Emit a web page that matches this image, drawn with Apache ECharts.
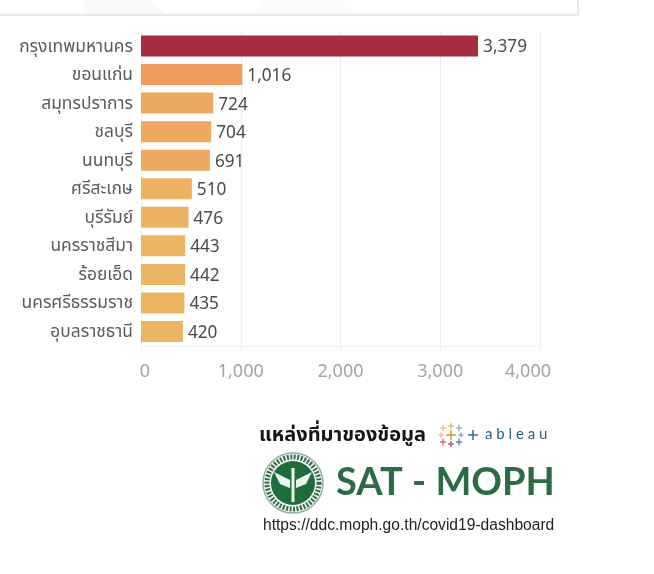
<!DOCTYPE html>
<html><head><meta charset="utf-8">
<style>html,body{margin:0;padding:0;background:#fff}#c{width:654px;height:574px}</style>
<script src="https://cdn.jsdelivr.net/npm/echarts@6/dist/echarts.min.js"></script>
</head><body><div id="c"></div>
<script>
const categories = ['กรุงเทพมหานคร','ขอนแก่น','สมุทรปราการ','ชลบุรี','นนทบุรี','ศรีสะเกษ','บุรีรัมย์','นครราชสีมา','ร้อยเอ็ด','นครศรีธรรมราช','อุบลราชธานี'];
const values = [3379,1016,724,704,691,510,476,443,442,435,420];
const barColors = ['#a62e40','#f09c5e','#eda95f','#eda95f','#eda95f','#ecb161','#ecb161','#ecb563','#ecb563','#ecb563','#ecb563'];
const FONT = '"Noto Sans Thai","Noto Sans","Lato",sans-serif';
const fmt = v => String(v).replace(/\B(?=(\d{3})+$)/g, ',');
const chart = echarts.init(document.getElementById('c'), null, {renderer:'canvas'});
const cross = (x,y,r,c) => [
  {type:'rect',shape:{x:x-r,y:y-0.7,width:2*r,height:1.4},style:{fill:c},silent:true},
  {type:'rect',shape:{x:x-0.7,y:y-r,width:1.4,height:2*r},style:{fill:c},silent:true}
];
const tableauCrosses = [
  [451,435,5,'#e8862c'],[443,428,3.2,'#f2c27a'],[459,428,3.2,'#8fb0cc'],
  [443,442,3.2,'#d8606a'],[459,442,3.2,'#5f7fa8'],[451,426,2.8,'#e9b36d'],
  [451,444,3,'#c5505e'],[441,435,2.6,'#ecc08a'],[461,435,2.6,'#7fa3c4']
];
const tickFont = {fontSize:18,color:'#a3a3a3',fontFamily:FONT};
const catFont = {color:'#5a5a5a',fontSize:17.4,fontFamily:FONT};
chart.setOption({
  animation:false,
  backgroundColor:'#fff',
  grid:{left:141,right:114,top:31.75,bottom:228.25,containLabel:false},
  xAxis:{type:'value',min:0,max:4000,interval:1000,
    axisLine:{show:true,lineStyle:{color:'#f0f0f0'}},
    axisTick:{show:true,length:5,lineStyle:{color:'#eeeeee'}},
    splitLine:{show:true,lineStyle:{color:'#eeeeee',width:1}},
    axisLabel:{margin:19,...tickFont,
      formatter:v=>v===0?'{first|0}':v===4000?'{last|4,000}':'{mid|'+fmt(v)+'}',
      rich:{
        first:{padding:[0,0,0,8],...tickFont},
        mid:{...tickFont},
        last:{padding:[0,24,0,0],...tickFont}
      }}},
  yAxis:{type:'category',inverse:true,data:categories,
    axisLine:{show:true,lineStyle:{color:'#eeeeee'}},axisTick:{show:false},
    axisLabel:{margin:8,...catFont,formatter:v=>'{a|'+v+'}',
      rich:{a:{...catFont,padding:[4,0,0,0]}}}},
  series:[{type:'bar',barWidth:21,
    data:values.map((v,i)=>({value:v,itemStyle:{color:barColors[i]}})),
    label:{show:true,position:'right',distance:5,offset:[0,3],color:'#4a4a4a',fontSize:17.2,fontFamily:FONT,formatter:p=>fmt(p.value)}}],
  graphic:[
    {type:'polygon',shape:{points:[[82,0],[150,0],[165,14],[88,14]]},style:{fill:'#f9f9f9'},silent:true},
    {type:'polygon',shape:{points:[[253,14],[262,0],[340,0],[358,14]]},style:{fill:'#fcfcfc'},silent:true},
    {type:'polyline',shape:{points:[[0,15],[578,15],[578,0]]},style:{stroke:'#e2e2e2',lineWidth:1.5,fill:null},silent:true},
    {type:'text',style:{x:259,y:437,text:'แหล่งที่มาของข้อมูล',font:'bold 20px '+FONT,fill:'#161616',verticalAlign:'middle'},silent:true},
    ...tableauCrosses.flatMap(a=>cross(...a)),
    ...cross(473,435,5,'#2f5f85'),
    {type:'text',style:{x:485,y:434,text:'a b l e a u',font:'15px Lato,sans-serif',fill:'#2f5f85',verticalAlign:'middle'},silent:true},
    {type:'circle',shape:{cx:293,cy:483,r:30},style:{fill:'#f4f8f4',stroke:'#8fb09a',lineWidth:1.5},silent:true},
    {type:'circle',shape:{cx:293,cy:483,r:26},style:{fill:null,stroke:'#3a6b4c',lineWidth:5,lineDash:[2,1.5]},silent:true},
    {type:'circle',shape:{cx:293,cy:483,r:22},style:{fill:'#1f6d3c'},silent:true},
    {type:'polygon',shape:{points:[[274,472],[290,480],[290,488],[280,484]]},style:{fill:'#eef5ef'},silent:true},
    {type:'polygon',shape:{points:[[312,472],[296,480],[296,488],[306,484]]},style:{fill:'#eef5ef'},silent:true},
    {type:'rect',shape:{x:291.5,y:468,width:3,height:34},style:{fill:'#eef5ef'},silent:true},
    {type:'text',style:{x:336,y:483,text:'SAT - MOPH',font:'bold 38px Lato,"Noto Sans",sans-serif',fill:'#2d6b45',verticalAlign:'middle'},silent:true},
    {type:'text',style:{x:263,y:526,text:'https://ddc.moph.go.th/covid19-dashboard',font:'15.6px "Liberation Sans",sans-serif',fill:'#222',verticalAlign:'middle'},silent:true}
  ]
});
</script></body></html>
